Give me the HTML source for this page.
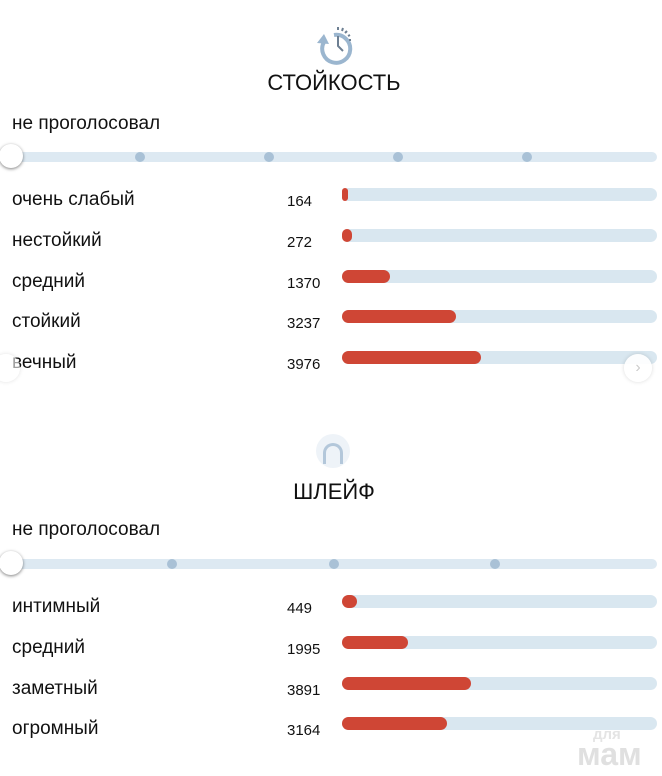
<!DOCTYPE html>
<html><head><meta charset="utf-8"><style>
body{margin:0;width:662px;height:776px;background:#fff;position:relative;overflow:hidden;font-family:"Liberation Sans",sans-serif;color:#111}
.a{position:absolute}
.lbl{position:absolute;left:12px;font-size:19px;line-height:20px;margin-top:2px}
.num{position:absolute;left:287px;font-size:15px;line-height:16px;margin-top:2px}
.trk{position:absolute;left:342px;width:315px;height:13px;border-radius:7px;background:#d9e7f0}
.fill{position:absolute;left:0;top:0;height:13px;border-radius:7px;background:#cf4635}
.sl{position:absolute;left:12px;width:645px;height:10px;border-radius:5px;background:#dde9f2}
.dot{position:absolute;width:10px;height:10px;border-radius:5px;background:#a9c1d6;top:0}
.knob{position:absolute;left:-13px;top:-8px;width:24px;height:24px;border-radius:13px;background:#fff;box-shadow:0 1px 3px rgba(0,0,0,.5)}
.title{position:absolute;left:0;width:668px;text-align:center;font-size:22px}
</style></head><body>
<svg class="a" style="left:314px;top:24px" width="42" height="42" viewBox="0 0 42 42">
<path d="M10 18 A14 14 0 1 0 20 11" fill="none" stroke="#9bb6cf" stroke-width="4"/>
<polygon points="3,19 10,10 15,20" fill="#9bb6cf"/>
<path d="M24 12 V22 L29 27" fill="none" stroke="#6d7f92" stroke-width="2"/>
<g stroke="#6d7f92" stroke-width="2"><line x1="24" y1="3" x2="24" y2="6"/><line x1="29" y1="4" x2="28" y2="7"/><line x1="33" y1="7" x2="31" y2="9"/><line x1="36" y1="11" x2="34" y2="12"/><line x1="37" y1="16" x2="35" y2="16"/></g>
</svg>
<div class="title" style="top:70px">СТОЙКОСТЬ</div>
<div class="lbl" style="top:112px">не проголосовал</div>
<div class="sl" style="top:152px"><div class="dot" style="left:123px"></div><div class="dot" style="left:252px"></div><div class="dot" style="left:381px"></div><div class="dot" style="left:510px"></div><div class="knob"></div></div>

<div class="lbl" style="top:188px">очень слабый</div><div class="num" style="top:192px">164</div><div class="trk" style="top:188px"><div class="fill" style="width:6px"></div></div>
<div class="lbl" style="top:229px">нестойкий</div><div class="num" style="top:233px">272</div><div class="trk" style="top:229px"><div class="fill" style="width:10px"></div></div>
<div class="lbl" style="top:270px">средний</div><div class="num" style="top:274px">1370</div><div class="trk" style="top:270px"><div class="fill" style="width:48px"></div></div>
<div class="lbl" style="top:310px">стойкий</div><div class="num" style="top:314px">3237</div><div class="trk" style="top:310px"><div class="fill" style="width:114px"></div></div>
<div class="lbl" style="top:351px">вечный</div><div class="num" style="top:355px">3976</div><div class="trk" style="top:351px"><div class="fill" style="width:139px"></div></div>
<div class="a" style="left:-8px;top:354px;width:28px;height:28px;border-radius:14px;background:rgba(255,255,255,.6);box-shadow:0 0 4px rgba(0,0,0,.12)"></div>
<div class="a" style="left:624px;top:354px;width:28px;height:28px;border-radius:14px;background:rgba(255,255,255,.9);box-shadow:0 0 4px rgba(0,0,0,.15);color:#ccc;font-size:16px;text-align:center;line-height:28px">›</div>

<div class="a" style="left:316px;top:434px;width:34px;height:34px;border-radius:17px;background:#eef3f8"></div>
<div class="a" style="left:323px;top:443px;width:14px;height:18px;border:3px solid #b3c7da;border-bottom:none;border-radius:10px 10px 0 0"></div>
<div class="title" style="top:479px">ШЛЕЙФ</div>
<div class="lbl" style="top:518px">не проголосовал</div>
<div class="sl" style="top:559px"><div class="dot" style="left:155px"></div><div class="dot" style="left:317px"></div><div class="dot" style="left:478px"></div><div class="knob"></div></div>

<div class="lbl" style="top:595px">интимный</div><div class="num" style="top:599px">449</div><div class="trk" style="top:595px"><div class="fill" style="width:15px"></div></div>
<div class="lbl" style="top:636px">средний</div><div class="num" style="top:640px">1995</div><div class="trk" style="top:636px"><div class="fill" style="width:66px"></div></div>
<div class="lbl" style="top:677px">заметный</div><div class="num" style="top:681px">3891</div><div class="trk" style="top:677px"><div class="fill" style="width:129px"></div></div>
<div class="lbl" style="top:717px">огромный</div><div class="num" style="top:721px">3164</div><div class="trk" style="top:717px"><div class="fill" style="width:105px"></div></div>
<div class="a" style="left:593px;top:726px;font-size:15px;color:#e4e4e4;font-weight:bold">для</div>
<div class="a" style="left:577px;top:736px;font-size:32px;color:#e0e0e0;font-weight:bold">мам</div>
</body></html>
